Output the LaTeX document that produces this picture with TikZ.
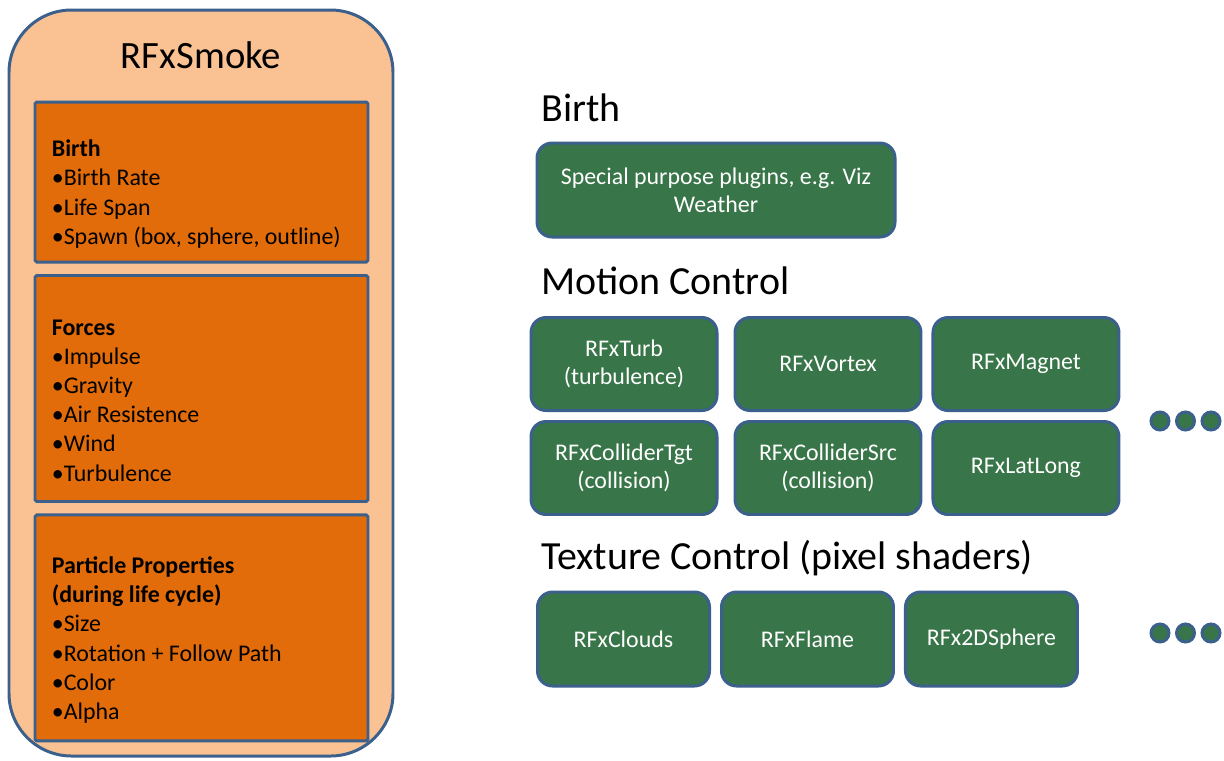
\documentclass[tikz,border=0pt]{standalone}
\usepackage{fontspec}
\setmainfont{Carlito}
\usepackage{xcolor}
\usepackage{tikz}
\usetikzlibrary{positioning}

\definecolor{peach}{RGB}{250,194,146}
\definecolor{burnt}{RGB}{227,108,10}
\definecolor{edgeblue}{RGB}{59,96,140}
\definecolor{leaf}{RGB}{56,117,72}

\begin{document}
\begin{tikzpicture}[
    outer/.style={draw=edgeblue, line width=1.7pt, fill=peach, rounded corners=1.25cm,
                  minimum width=7.68cm, minimum height=14.92cm},
    part/.style={draw=edgeblue, line width=1.7pt, fill=burnt, rounded corners=1pt,
                 minimum width=6.66cm},
    partlist/.style={align=left, anchor=west, inner sep=0pt,
                     font=\fontsize{13.6}{16.6}\selectfont},
    plug/.style={draw=edgeblue, line width=1.7pt, fill=leaf, rounded corners=0.3cm,
                 text=white, align=center, font=\fontsize{13.6}{15.8}\selectfont},
    motion/.style={plug, minimum width=3.72cm, minimum height=1.86cm},
    texture/.style={plug, minimum width=3.44cm, minimum height=1.88cm},
    head/.style={anchor=west, inner sep=0pt, font=\fontsize{22.7}{27}\selectfont},
    more/.style={circle, draw=edgeblue, line width=1.7pt, fill=leaf,
                 minimum size=0.36cm, inner sep=0pt},
    node distance=0.21cm
  ]
    \useasboundingbox (0,0) rectangle (24.48,-15.2);

    % left column: the smoke plugin
    \node[outer] (smoke) at (4.02,-7.66) {};
    \node[font=\fontsize{22}{26}\selectfont] (title) at (4.02,-1.10) {RFxSmoke};
    \node[part, minimum height=3.2cm] (birthbox) at (4.03,-3.64) {};
    \node[part, minimum height=4.52cm, below=of birthbox] (forcebox) {};
    \node[part, minimum height=4.52cm, below=of forcebox] (propbox) {};

    \node[partlist] (birthtxt) at ([xshift=0.36cm,yshift=-0.24cm]birthbox.west)
      {\textbf{Birth}\\•Birth Rate\\•Life Span\\•Spawn (box, sphere, outline)};
    \node[partlist] (forcetxt) at ([xshift=0.36cm,yshift=-0.24cm]forcebox.west)
      {\textbf{Forces}\\•Impulse\\•Gravity\\•Air Resistence\\•Wind\\•Turbulence};
    \node[partlist] (proptxt) at ([xshift=0.36cm,yshift=-0.24cm]propbox.west)
      {\textbf{Particle Properties}\\\textbf{(during life cycle)}\\•Size\\
       •Rotation + Follow Path\\•Color\\•Alpha};

    % right column: other plugins
    \node[head] (hbirth) at (10.82,-2.16) {Birth};
    \node[plug, minimum width=7.16cm, minimum height=1.88cm] (special) at (14.32,-3.8)
      {Special purpose plugins, e.g. Viz\\Weather};

    \node[head] (hmotion) at (10.82,-5.62) {Motion Control};
    \node[motion] (turb) at (12.48,-7.28) {RFxTurb\\(turbulence)};
    \node[motion, right=0.3cm of turb] (vortex) {RFxVortex};
    \node[motion, right=0.18cm of vortex] (magnet) {RFxMagnet};
    \node[motion, below=0.16cm of turb] (tgt) {RFxColliderTgt\\(collision)};
    \node[motion, below=0.16cm of vortex] (src) {RFxColliderSrc\\(collision)};
    \node[motion, below=0.16cm of magnet] (latlong) {RFxLatLong};

    \node[head] (htexture) at (10.82,-11.16) {Texture Control (pixel shaders)};
    \node[texture] (clouds) at (12.47,-12.78) {RFxClouds};
    \node[texture, right=0.18cm of clouds] (flame) {RFxFlame};
    \node[texture, right=0.18cm of flame] (sphere) {RFx2DSphere};

    % ellipsis dots
    \node[more] (m1) at (23.2,-8.42) {};
    \node[more] (m2) at (23.71,-8.42) {};
    \node[more] (m3) at (24.22,-8.42) {};
    \node[more] (t1) at (23.2,-12.66) {};
    \node[more] (t2) at (23.71,-12.66) {};
    \node[more] (t3) at (24.22,-12.66) {};
\end{tikzpicture}
\end{document}
